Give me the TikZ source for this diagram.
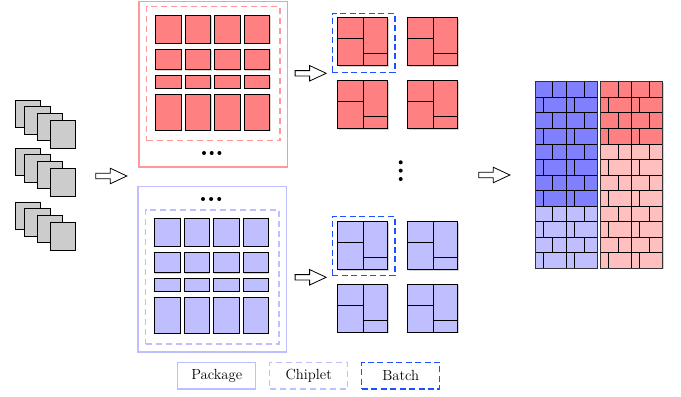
\documentclass[tikz,border=0pt]{standalone}
\usepackage{xcolor}
\usetikzlibrary{shapes, arrows, shadows, positioning, calc}
\definecolor{batchblue}{RGB}{30,80,255}
\tikzset{
  shade/.style={drop shadow={shadow xshift=0.6pt, shadow yshift=-0.6pt, opacity=0.35}},
  chip/.style={draw=black, line width=0.6pt, shade},
  die/.style={draw=black, line width=0.6pt, fill=black!20},
  pkgframe/.style={draw=#1, line width=1pt, minimum width=111.3pt, minimum height=124pt, anchor=north west},
  chipframe/.style={draw=#1, line width=1pt, dash pattern=on 4.5pt off 3pt, minimum width=100pt, minimum height=100.5pt, anchor=north west},
  batchframe/.style={draw=batchblue, line width=1.1pt, dash pattern=on 4.5pt off 2.6pt, minimum width=47pt, minimum height=44.3pt, anchor=north west},
  fatarrow/.style={single arrow, draw=black, fill=white, line width=0.6pt, minimum height=23.3pt, inner sep=1.7pt, single arrow head extend=3.8pt, single arrow tip angle=50},
  legbox/.style={draw=#1, line width=1pt, minimum width=58.5pt, minimum height=20pt, inner sep=0pt, font=\fontsize{11}{13}\selectfont}
}

\begin{document}
\begin{tikzpicture}[x=0.75pt, y=-0.75pt]
    \useasboundingbox (0,0) rectangle (681,396);

    % input dies, three stacks of four
    \foreach \t in {100,148,202} {
      \foreach \dx/\dy in {0/0, 9.5/6.7, 22.3/13.3, 35/20.7}
        \draw[die] (15+\dx,\t+\dy) rectangle ++(25.5,27.3);
    }
    \node[fatarrow] (arrIn) at (108.5,176) {};

    % two packages, chiplets laid out the same way
    \node[pkgframe=red!40] (pkgR) at (138.3,1) {};
    \node[chipframe=red!40] (cfR) at (146,6) {};
    \node[pkgframe=blue!25] (pkgB) at (137.3,186) {};
    \node[chipframe=blue!25] (cfB) at (145,209.3) {};
    \foreach \gx/\gy/\c in {155.7/15.3/red!50, 154.5/218.3/blue!25} {
      \foreach \dy/\h in {0/28, 34/20.4, 60.5/12.6, 79/36}
        \foreach \i in {0,...,3}
          \draw[chip, fill=\c] (\gx+\i*29.5,\gy+\dy) rectangle ++(25.6,\h);
    }
    \foreach \i in {0,1,2} {
      \fill (204+\i*7.7,153) circle (2);
      \fill (203+\i*8.1,199) circle (2);
    }

    \node[fatarrow] (arrR) at (307.8,73.3) {};
    \node[fatarrow] (arrB) at (307.8,277.3) {};

    % batches of packed tiles
    \node[batchframe] (batchR) at (331.7,12.7) {};
    \node[batchframe] (batchB) at (331.7,215.7) {};
    \foreach \x/\y/\c in {337.7/17.7/red!50, 407.7/17.7/red!50, 337.7/80.7/red!50, 407.7/80.7/red!50,
                          337.7/221.7/blue!25, 407.7/221.7/blue!25, 337.7/284.3/blue!25, 407.7/284.3/blue!25} {
      \draw[chip, fill=\c] (\x,\y) rectangle ++(50,48);
      \draw[line width=0.6pt] (\x+25.6,\y) -- ++(0,48)
        (\x,\y+20.6) -- ++(25.6,0)
        (\x+25.6,\y+35.6) -- ++(24.4,0);
    }
    \foreach \i in {0,1,2}
      \fill (400.7,162.3+\i*8.35) circle (2);

    \node[fatarrow] (arrOut) at (491.5,175) {};

    % wafer walls
    \foreach \L/\dark/\light/\n in {535/blue!50/blue!25/8, 600.7/red!50/red!25/4} {
      \fill[shade, \light] (\L,81.7) rectangle ++(62,186.6);
      \fill[\dark] (\L,81.7) rectangle ++(62,\n*15.55);
      \foreach \r in {0,...,11} {
        \pgfmathsetmacro\yy{81.7+\r*15.55}
        \ifodd\r
          \draw[line width=0.6pt] (\L+8,\yy) -- ++(0,15.55) (\L+39,\yy) -- ++(0,15.55);
        \else
          \draw[line width=0.6pt] (\L+17.7,\yy) -- ++(0,15.55) (\L+49,\yy) -- ++(0,15.55);
        \fi
        \draw[line width=0.6pt] (\L,\yy) -- ++(62,0);
      }
      \draw[line width=0.6pt] (\L+31,81.7) -- ++(0,186.6);
      \draw[line width=0.7pt, draw=black!80] (\L,81.7) rectangle ++(62,186.6);
    }

    % legend
    \node[legbox=blue!25] (legPkg) at (216.7,375.7) {Package};
    \node[legbox=blue!25, dash pattern=on 4.5pt off 3pt, right=9.5pt of legPkg] (legChip) {Chiplet};
    \node[legbox=batchblue, dash pattern=on 4.5pt off 2.6pt, right=9.5pt of legChip] (legBatch) {Batch};
\end{tikzpicture}
\end{document}
